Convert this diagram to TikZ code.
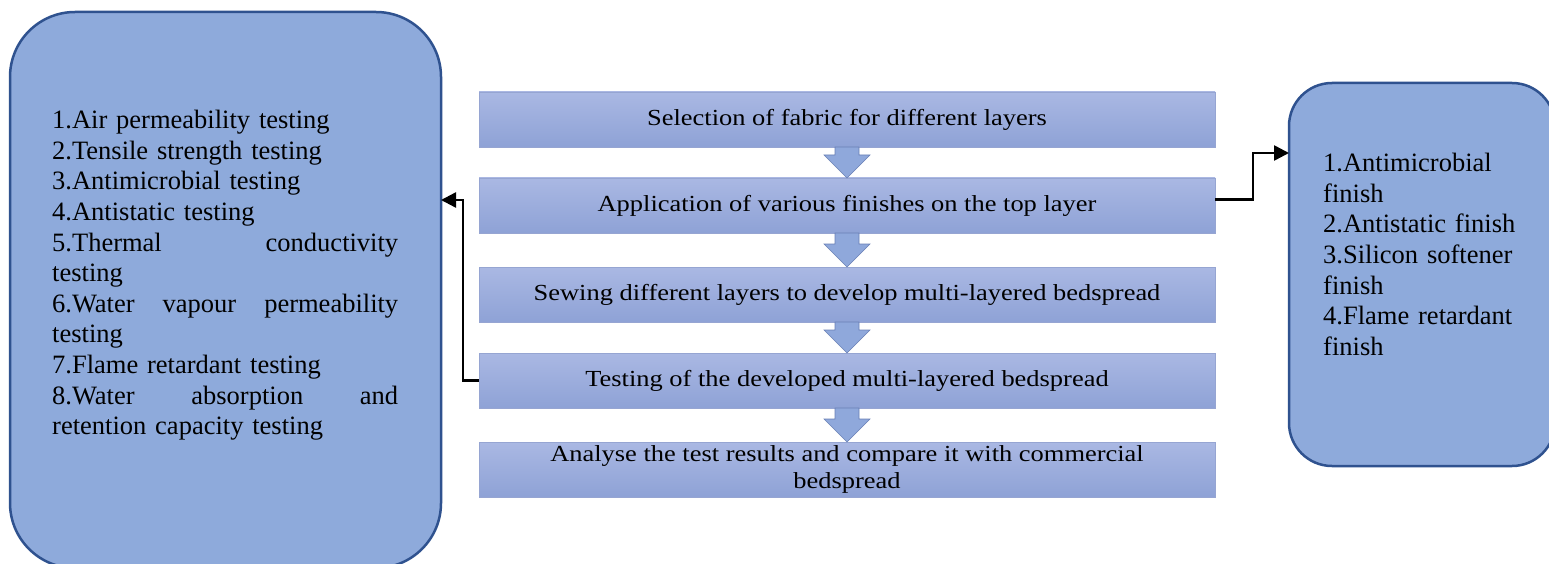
\documentclass[tikz,border=0pt]{standalone}
\usepackage{fontspec}
\setmainfont{Liberation Serif}
\newfontfamily\flowfont[FakeStretch=1.15]{Liberation Serif}
\usetikzlibrary{arrows.meta,calc}
\definecolor{sidefill}{RGB}{142,170,219}
\definecolor{sideborder}{RGB}{47,82,143}
\definecolor{flowtop}{RGB}{170,184,227}
\definecolor{flowbot}{RGB}{142,162,214}
\definecolor{flowborder}{RGB}{150,165,210}
\definecolor{arrfill}{RGB}{143,168,219}
\definecolor{arrborder}{RGB}{105,128,182}
\newcommand\blockdown[2]{%
  \draw[blockarrow] let \p1=(#1.south), \p2=(#2.north) in
    (\x1-12bp,\y1) -- (\x1+12bp,\y1) -- (\x1+12bp,\y2+23bp) -- (\x1+23bp,\y2+23bp)
    -- (\x1,\y2) -- (\x1-23bp,\y2+23bp) -- (\x1-12bp,\y2+23bp) -- cycle;}
\begin{document}
\begin{tikzpicture}[x=1bp,y=-1bp,
  sidebox/.style={draw=sideborder, line width=2.5bp, fill=sidefill, anchor=north west, inner sep=0, outer sep=0},
  flowbox/.style={draw=flowborder, line width=0.8bp, top color=flowtop, bottom color=flowbot,
    minimum width=736bp, minimum height=55bp, anchor=north west, inner sep=0, outer sep=0,
    font=\flowfont\fontsize{23bp}{27bp}\selectfont, align=center},
  sidetext/.style={anchor=north west, inner sep=0, align=left, font=\fontsize{26.5bp}{30.6bp}\selectfont},
  conn/.style={draw=black, line width=2.5bp, -{Triangle[length=15bp,width=15bp]}},
  blockarrow/.style={draw=arrborder, line width=0.6bp, fill=arrfill}]
\useasboundingbox (0,0) rectangle (1549,564);
\fill[white] (0,0) rectangle (1549,564);
% side boxes
\node[sidebox, rounded corners=65bp, minimum width=431bp, minimum height=556bp] (L) at (10,12) {};
\node[sidebox, rounded corners=43bp, minimum width=266bp, minimum height=383bp] (R) at (1289,83) {};
% flow boxes
\node[flowbox] (b1) at (479,92) {Selection of fabric for different layers};
\node[flowbox] (b2) at (479,178) {Application of various finishes on the top layer};
\node[flowbox] (b3) at (479,267) {Sewing different layers to develop multi-layered bedspread};
\node[flowbox] (b4) at (479,353) {Testing of the developed multi-layered bedspread};
\node[flowbox] (b5) at (479,442) {Analyse the test results and compare it with commercial\\bedspread};
% block arrows
\blockdown{b1}{b2}
\blockdown{b2}{b3}
\blockdown{b3}{b4}
\blockdown{b4}{b5}
% connectors
\coordinate (la) at (463,200);
\draw[conn] (b4.west) -| (la) -- (la -| L.east);
\coordinate (ra) at (1253,153);
\draw[conn] ([yshift=6bp]b2.east) -| (ra) -- (ra -| R.west);
% texts
\node[sidetext, text width=346bp] (Lt) at (52,107) {\strut 1.Air permeability testing\\
2.Tensile strength testing\\
3.Antimicrobial testing\\
4.Antistatic testing\\
5.Thermal\hfill conductivity\\
testing\\
6.Water\hfill vapour\hfill permeability\\
testing\\
7.Flame retardant testing\\
8.Water\hfill absorption\hfill and\\
retention capacity testing};
\node[sidetext, text width=220bp] (Rt) at (1323,150) {\strut 1.Antimicrobial\\
finish\\
2.Antistatic finish\\
3.Silicon softener\\
finish\\
4.Flame retardant\\
finish};
\end{tikzpicture}
\end{document}
